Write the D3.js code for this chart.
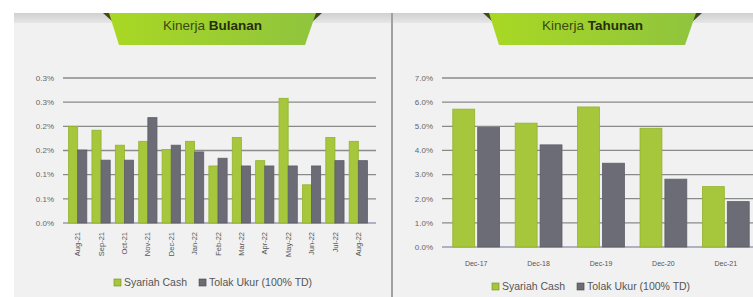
<!DOCTYPE html>
<html>
<head>
<meta charset="utf-8">
<script src="https://cdn.jsdelivr.net/npm/d3@7"></script>
<style>
  body { margin: 0; background: #fff; }
  svg { display: block; font-family: "Liberation Sans", Arial, sans-serif; }
</style>
</head>
<body>
<svg id="chart" width="753" height="297"></svg>
<script>
// monthly (left) data
var months = ['Aug-21','Sep-21','Oct-21','Nov-21','Dec-21','Jan-22','Feb-22','Mar-22','Apr-22','May-22','Jun-22','Jul-22','Aug-22'];
var monthlySyariah = [0.200, 0.192, 0.161, 0.169, 0.152, 0.169, 0.118, 0.177, 0.129, 0.258, 0.079, 0.177, 0.169];
var monthlyBench   = [0.151, 0.130, 0.130, 0.218, 0.161, 0.147, 0.134, 0.118, 0.118, 0.118, 0.118, 0.129, 0.129];
var monthlyTicks = [0, 0.05, 0.10, 0.15, 0.20, 0.25, 0.30];
var monthlyTickLabels = ['0.0%','0.1%','0.1%','0.2%','0.2%','0.3%','0.3%'];

// yearly (right) data
var years = ['Dec-17','Dec-18','Dec-19','Dec-20','Dec-21'];
var yearlySyariah = [5.71, 5.13, 5.80, 4.92, 2.50];
var yearlyBench   = [4.95, 4.23, 3.47, 2.81, 1.88];
var yearlyTicks = [0, 1, 2, 3, 4, 5, 6, 7];
var yearlyTickLabels = ['0.0%','1.0%','2.0%','3.0%','4.0%','5.0%','6.0%','7.0%'];

var seriesNames = ['Syariah Cash', 'Tolak Ukur (100% TD)'];
var green = '#a6c73c', grey = '#6c6c76';

var svg = d3.select('#chart');

// background + header band
svg.append('rect').attr('x', 14).attr('y', 13).attr('width', 739).attr('height', 284).attr('fill', '#f1f1f1');
var hdr = svg.append('defs').append('linearGradient').attr('id', 'hdr').attr('x1', 0).attr('y1', 0).attr('x2', 0).attr('y2', 1);
hdr.append('stop').attr('offset', 0).attr('stop-color', '#d0d0d0');
hdr.append('stop').attr('offset', 1).attr('stop-color', '#e6e6e6');
svg.append('rect').attr('x', 14).attr('y', 13).attr('width', 739).attr('height', 10).attr('fill', 'url(#hdr)');
svg.append('line').attr('x1', 392).attr('x2', 392).attr('y1', 13).attr('y2', 297)
    .attr('stroke', '#a0a0a0').attr('stroke-width', 2);

var tabGrad = svg.select('defs').append('linearGradient').attr('id', 'tab').attr('x1', 0).attr('y1', 0).attr('x2', 1).attr('y2', 0);
tabGrad.append('stop').attr('offset', 0).attr('stop-color', '#a9d823');
tabGrad.append('stop').attr('offset', 1).attr('stop-color', '#8fc43e');

function drawTab(x0, x1, boldWord) {
    svg.append('polygon').attr('points', [[x0 - 6, 13], [x0 + 5, 13], [x0 + 5, 23]].join(' ')).attr('fill', '#3e4a1c');
    svg.append('polygon').attr('points', [[x1 + 6, 13], [x1 - 5, 13], [x1 - 5, 23]].join(' ')).attr('fill', '#3e4a1c');
    svg.append('polygon')
        .attr('points', [[x0, 13], [x1, 13], [x1 - 11, 45], [x0 + 10, 45]].join(' '))
        .attr('fill', 'url(#tab)');
    var t = svg.append('text').attr('x', (x0 + x1) / 2).attr('y', 30)
        .attr('text-anchor', 'middle').attr('font-size', 13.5).attr('fill', '#3a4a14');
    t.append('tspan').text('Kinerja ');
    t.append('tspan').attr('font-weight', 'bold').attr('fill', '#262e0c').text(boldWord);
}
drawTab(109, 316, 'Bulanan');
drawTab(489, 696, 'Tahunan');

function drawChart(opt) {
    var g = svg.append('g');
    var y = d3.scaleLinear().domain(opt.domain).range([opt.bottom, opt.top]);
    var x0 = d3.scaleBand().domain(opt.cats).range([opt.left, opt.right]).paddingInner(opt.pad).paddingOuter(opt.pad / 2);
    var x1 = d3.scaleBand().domain([0, 1]).range([0, x0.bandwidth()]).paddingInner(opt.subPad);

    // gridlines
    g.selectAll('.grid').data(opt.ticks).enter().append('line')
        .attr('x1', opt.left - 3).attr('x2', opt.gridEnd)
        .attr('y1', function(d) { return y(d); }).attr('y2', function(d) { return y(d); })
        .attr('stroke', function(d) { return d === 0 ? '#9a9ab4' : '#8a8a8a'; })
        .attr('stroke-width', 1.3);

    // y labels
    g.selectAll('.ylab').data(opt.ticks).enter().append('text')
        .attr('x', opt.left - 12).attr('y', function(d) { return y(d); })
        .attr('dy', '0.35em').attr('text-anchor', 'end')
        .attr('font-size', 8).attr('fill', '#666')
        .text(function(d, i) { return opt.tickLabels[i]; });

    var groups = g.selectAll('.grp').data(opt.cats).enter().append('g')
        .attr('transform', function(d) { return 'translate(' + x0(d) + ',0)'; });
    groups.append('rect')
        .attr('x', x1(0)).attr('width', x1.bandwidth())
        .attr('y', function(d, i) { return y(opt.a[i]); })
        .attr('height', function(d, i) { return y(0) - y(opt.a[i]); })
        .attr('fill', green).attr('stroke', '#93b22e').attr('stroke-width', 0.8);
    groups.append('rect')
        .attr('x', x1(1)).attr('width', x1.bandwidth())
        .attr('y', function(d, i) { return y(opt.b[i]); })
        .attr('height', function(d, i) { return y(0) - y(opt.b[i]); })
        .attr('fill', grey).attr('stroke', '#5e5e68').attr('stroke-width', 0.8);

    // x labels
    if (opt.rotate) {
        g.selectAll('.xlab').data(opt.cats).enter().append('text')
            .attr('transform', function(d) { return 'translate(' + (x0(d) + x0.bandwidth() / 2) + ',' + (opt.bottom + 9) + ') rotate(-90)'; })
            .attr('dy', '0.35em').attr('text-anchor', 'end')
            .attr('font-size', 7.5).attr('fill', '#555')
            .text(function(d) { return d; });
    } else {
        g.selectAll('.xlab').data(opt.cats).enter().append('text')
            .attr('x', function(d) { return x0(d) + x0.bandwidth() / 2; })
            .attr('y', opt.bottom + 19)
            .attr('text-anchor', 'middle')
            .attr('font-size', 7).attr('fill', '#555')
            .text(function(d) { return d; });
    }

    // legend
    var lg = g.append('g').attr('transform', 'translate(' + opt.legX + ',' + opt.legY + ')');
    var off = 0;
    seriesNames.forEach(function(name, i) {
        lg.append('rect').attr('x', off).attr('y', -7).attr('width', 7).attr('height', 7)
            .attr('fill', i === 0 ? green : grey).attr('stroke', i === 0 ? '#6f8a20' : '#444').attr('stroke-width', 0.6);
        var t = lg.append('text').attr('x', off + 10).attr('y', 0)
            .attr('font-size', 10.5).attr('fill', '#555').text(name);
        off += 10 + t.node().getComputedTextLength() + 12;
    });
}

drawChart({
    cats: months, a: monthlySyariah, b: monthlyBench,
    domain: [0, 0.30], ticks: monthlyTicks, tickLabels: monthlyTickLabels,
    top: 78, bottom: 223, left: 66, right: 370, gridEnd: 376,
    pad: 0.22, subPad: 0, rotate: true, legX: 114, legY: 286
});

drawChart({
    cats: years, a: yearlySyariah, b: yearlyBench,
    domain: [0, 7], ticks: yearlyTicks, tickLabels: yearlyTickLabels,
    top: 78, bottom: 247, left: 445, right: 757, gridEnd: 753,
    pad: 0.25, subPad: 0.12, rotate: false, legX: 492, legY: 290
});
</script>
</body>
</html>
